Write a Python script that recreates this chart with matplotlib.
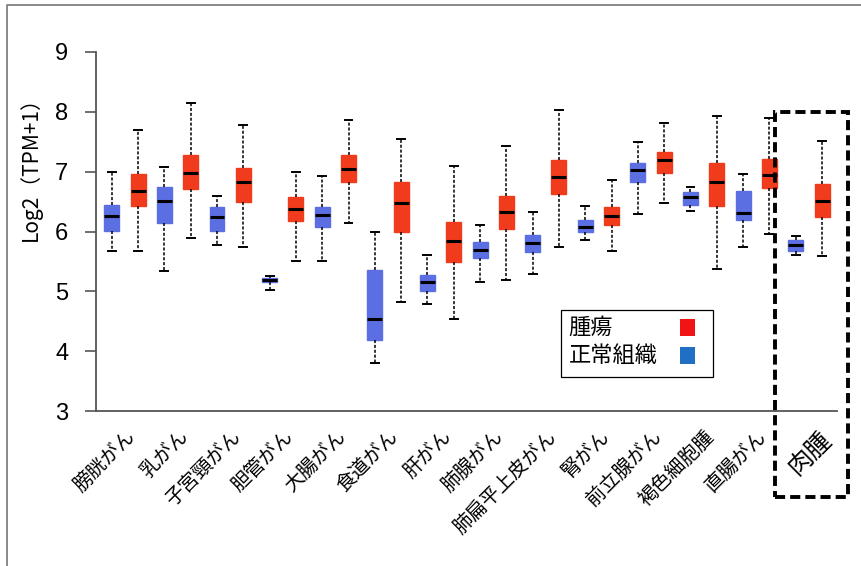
import matplotlib
matplotlib.use("Agg")
import matplotlib.pyplot as plt
from matplotlib import font_manager
from matplotlib.lines import Line2D
from matplotlib.patches import Rectangle

# categories, each has a normal (blue) and a tumour (red) box
categories = ["膀胱がん", "乳がん", "子宮頸がん", "胆管がん", "大腸がん", "食道がん", "肝がん",
              "肺腺がん", "肺扁平上皮がん", "腎がん", "前立腺がん", "褐色細胞腫", "直腸がん", "肉腫"]

normal_lo = [5.68, 5.34, 5.77, 5.03, 5.51, 3.81, 4.78, 5.16, 5.29, 5.85, 6.30, 6.34, 5.74, 5.61]
normal_q1 = [6.01, 6.14, 6.01, 5.15, 6.08, 4.18, 5.01, 5.56, 5.65, 5.99, 6.82, 6.44, 6.20, 5.68]
normal_med = [6.26, 6.51, 6.24, 5.19, 6.28, 4.53, 5.15, 5.69, 5.80, 6.08, 7.02, 6.57, 6.31, 5.77]
normal_q3 = [6.45, 6.74, 6.41, 5.22, 6.41, 5.35, 5.27, 5.83, 5.94, 6.20, 7.14, 6.66, 6.68, 5.85]
normal_hi = [6.99, 7.07, 6.60, 5.26, 6.92, 6.00, 5.61, 6.11, 6.33, 6.43, 7.49, 6.74, 6.96, 5.92]

tumor_lo = [5.68, 5.89, 5.74, 5.51, 6.15, 4.83, 4.53, 5.19, 5.74, 5.68, 6.48, 5.38, 5.96, 5.59]
tumor_q1 = [6.43, 6.71, 6.49, 6.18, 6.82, 5.99, 5.49, 6.05, 6.63, 6.11, 6.98, 6.43, 6.72, 6.24]
tumor_med = [6.67, 6.98, 6.83, 6.37, 7.04, 6.48, 5.84, 6.33, 6.91, 6.26, 7.20, 6.83, 6.94, 6.51]
tumor_q3 = [6.96, 7.28, 7.06, 6.58, 7.28, 6.83, 6.16, 6.60, 7.20, 6.41, 7.33, 7.14, 7.21, 6.79]
tumor_hi = [7.70, 8.14, 7.78, 6.99, 7.86, 7.55, 7.10, 7.43, 8.03, 6.86, 7.82, 7.93, 7.89, 7.51]

legend_labels = ["腫瘍", "正常組織"]
legend_colors = ["#f01414", "#1f6fc4"]

red = "#f03c1c"
blue = "#5b6fe2"

names = {f.name for f in font_manager.fontManager.ttflist}
num_font = "Liberation Sans Narrow" if "Liberation Sans Narrow" in names else "Liberation Sans"
jp = ["Noto Sans CJK JP", "DejaVu Sans"]

fig = plt.figure(figsize=(8.62, 5.66), dpi=100)
ax = fig.add_axes([96 / 862, 1 - 411 / 566, (837 - 96) / 862, (411 - 52) / 566])


def stats(lo, q1, med, q3, hi):
    return [dict(whislo=a, q1=b, med=c, q3=d, whishi=e, fliers=[])
            for a, b, c, d, e in zip(lo, q1, med, q3, hi)]


n = len(categories)
for vals, col, off in [((normal_lo, normal_q1, normal_med, normal_q3, normal_hi), blue, 0),
                       ((tumor_lo, tumor_q1, tumor_med, tumor_q3, tumor_hi), red, 1)]:
    ax.bxp(stats(*vals), positions=[2 * i + off for i in range(n)], widths=0.57,
           capwidths=0.3, patch_artist=True, showfliers=False,
           boxprops=dict(facecolor=col, edgecolor=col, linewidth=1),
           medianprops=dict(color="black", linewidth=2.2),
           whiskerprops=dict(color="black", linewidth=1.1, linestyle=(0, (2, 1.2))),
           capprops=dict(color="black", linewidth=1.4))

ax.set_xlim(-0.6, 2 * n - 0.43)
ax.set_ylim(3, 9)
ax.set_yticks(range(3, 10))
ax.tick_params(axis="y", length=8, width=1.2, color="#555555", labelsize=17, pad=12)
for t in ax.get_yticklabels():
    t.set_family(num_font)
# label anchors sit at pair centres; the boxed last label is nudged right inside its frame
label_x = [2 * i + 0.5 for i in range(n)]
label_x[-1] += 0.35
ax.set_xticks(label_x)
ax.set_xticklabels(categories, rotation=45, ha="right", va="top", rotation_mode="anchor",
                   fontsize=14, family=jp)
ax.tick_params(axis="x", length=0, pad=11)
ax.get_xticklabels()[-1].set_fontsize(18)

for s in ["top", "right"]:
    ax.spines[s].set_visible(False)
for s in ["left", "bottom"]:
    ax.spines[s].set_color("#555555")
    ax.spines[s].set_linewidth(1.3)

fig.text(30 / 862, 1 - 164 / 566, "Log2（TPM+1）", rotation=90, ha="center", va="center",
         fontsize=15, family=jp)

# legend drawn by hand: text on the left, square on the right
ax.add_patch(Rectangle((0.628, 0.095), 0.204, 0.187, transform=ax.transAxes, fill=False,
                       edgecolor="black", linewidth=0.9, zorder=5))
for k, (lab, col) in enumerate(zip(legend_labels, legend_colors)):
    y = 0.232 - k * 0.078
    ax.text(0.638, y, lab, transform=ax.transAxes, ha="left", va="center",
            fontsize=16, family=jp, zorder=6)
    ax.add_patch(Rectangle((0.788, y - 0.022), 0.021, 0.045, transform=ax.transAxes,
                           facecolor=col, edgecolor="none", zorder=6))

# dashed highlight around the sarcoma pair
fig.patches.append(Rectangle((775 / 862, 1 - 497 / 566), 73 / 862, 385 / 566,
                             transform=fig.transFigure, fill=False, edgecolor="black",
                             linewidth=2.8, linestyle=(0, (2.6, 1.3))))
# outer frame
fig.add_artist(Line2D([7 / 862, 7 / 862, 1.0], [0, 1 - 5 / 566, 1 - 5 / 566],
                      transform=fig.transFigure, color="#808080", linewidth=1.3))

fig.savefig("out.png", dpi=100)
